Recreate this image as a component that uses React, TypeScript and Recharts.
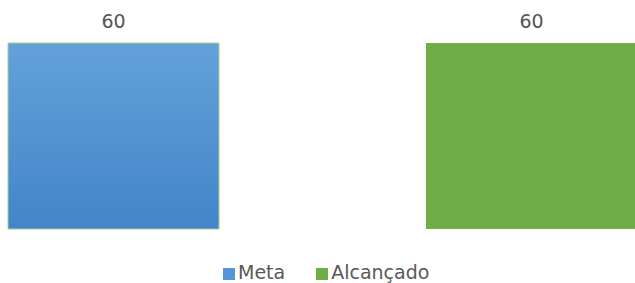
import { BarChart, Bar, XAxis, YAxis, LabelList } from "recharts";

const categories = ["Resultado"];
const metaValues = [60];
const alcancadoValues = [60];
const seriesNames = ["Meta", "Alcançado"];
const seriesColors = ["#5296d6", "#70ad47"];

const data = categories.map((name, i) => ({
  name,
  meta: metaValues[i],
  alcancado: alcancadoValues[i],
}));

const font = "'DejaVu Sans', sans-serif";

export default function App() {
  return (
    <div
      style={{
        position: "absolute",
        left: 0,
        top: 0,
        width: 635,
        height: 283,
        overflow: "hidden",
        background: "#fff",
        fontFamily: font,
      }}
    >
      <BarChart
        width={642}
        height={283}
        data={data}
        margin={{ top: 43, right: 4, left: 7, bottom: 54 }}
        barSize={211}
        barGap={207}
        barCategoryGap={0}
      >
        <defs>
          <linearGradient id="metaFill" x1="0" y1="0" x2="0" y2="1">
            <stop offset="0%" stopColor="#64a1db" />
            <stop offset="100%" stopColor="#4385c8" />
          </linearGradient>
        </defs>
        <XAxis dataKey="name" hide />
        <YAxis hide domain={[0, 60]} />
        <Bar
          dataKey="meta"
          name={seriesNames[0]}
          fill="url(#metaFill)"
          stroke="#a6cf8c"
          strokeWidth={1}
          isAnimationActive={false}
        >
          <LabelList
            dataKey="meta"
            position="top"
            offset={15}
            fill="#555555"
            fontSize={19}
            fontFamily={font}
          />
        </Bar>
        <Bar
          dataKey="alcancado"
          name={seriesNames[1]}
          fill={seriesColors[1]}
          isAnimationActive={false}
        >
          <LabelList
            dataKey="alcancado"
            position="top"
            offset={15}
            fill="#555555"
            fontSize={19}
            fontFamily={font}
          />
        </Bar>
      </BarChart>

      {/* legend drawn by hand so the spacing matches */}
      <div
        style={{
          position: "absolute",
          left: 223,
          top: 261,
          display: "flex",
          alignItems: "center",
          color: "#595959",
          fontSize: 19,
          lineHeight: "22px",
        }}
      >
        {seriesNames.map((name, i) => (
          <div
            key={name}
            style={{ display: "flex", alignItems: "center", marginRight: i === 0 ? 31 : 0 }}
          >
            <span
              style={{
                display: "inline-block",
                width: 12,
                height: 12,
                background: seriesColors[i],
                marginRight: 3,
                marginTop: 3,
              }}
            />
            <span>{name}</span>
          </div>
        ))}
      </div>
    </div>
  );
}
